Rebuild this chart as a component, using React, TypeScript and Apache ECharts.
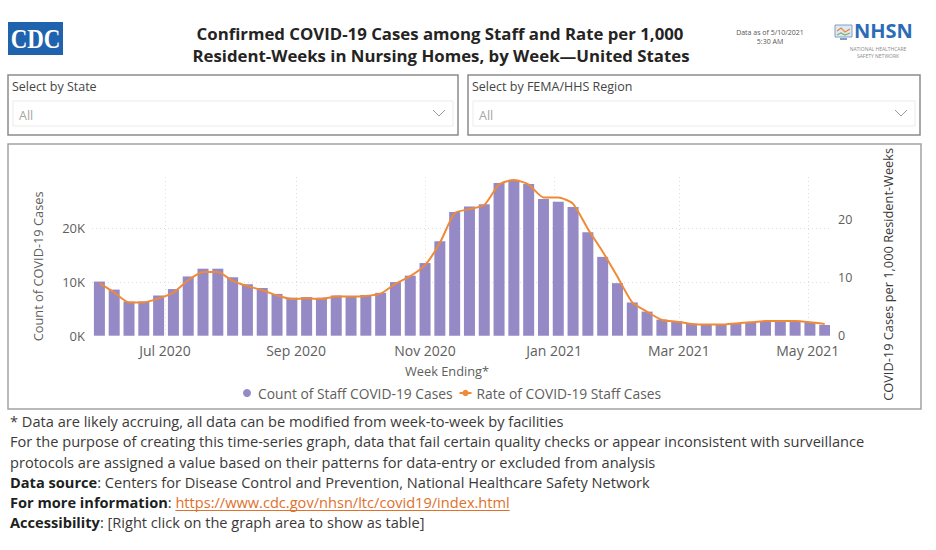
import React, { useEffect, useRef } from "react";
import * as echarts from "echarts";

const weekEnding = [
  "2020-05-31", "2020-06-07", "2020-06-14", "2020-06-21", "2020-06-28",
  "2020-07-05", "2020-07-12", "2020-07-19", "2020-07-26", "2020-08-02",
  "2020-08-09", "2020-08-16", "2020-08-23", "2020-08-30", "2020-09-06",
  "2020-09-13", "2020-09-20", "2020-09-27", "2020-10-04", "2020-10-11",
  "2020-10-18", "2020-10-25", "2020-11-01", "2020-11-08", "2020-11-15",
  "2020-11-22", "2020-11-29", "2020-12-06", "2020-12-13", "2020-12-20",
  "2020-12-27", "2021-01-03", "2021-01-10", "2021-01-17", "2021-01-24",
  "2021-01-31", "2021-02-07", "2021-02-14", "2021-02-21", "2021-02-28",
  "2021-03-07", "2021-03-14", "2021-03-21", "2021-03-28", "2021-04-04",
  "2021-04-11", "2021-04-18", "2021-04-25", "2021-05-02", "2021-05-09",
];

const staffCases = [
  10100, 8600, 6400, 6400, 7500, 8700, 11050, 12500, 12500, 10900,
  9600, 8900, 7800, 7100, 7200, 7100, 7500, 7400, 7600, 8000,
  10000, 11200, 13550, 17600, 23050, 24100, 24500, 28500, 29100, 28300,
  25500, 25000, 24000, 19300, 14700, 9800, 6200, 4500, 3000, 2700,
  2250, 2000, 2000, 2250, 2500, 2700, 2700, 2700, 2500, 2000,
];

const staffRate = [
  9.0, 7.4, 5.7, 5.7, 6.4, 7.4, 9.5, 10.9, 10.9, 9.4,
  8.5, 7.8, 6.9, 6.3, 6.4, 6.3, 6.7, 6.7, 6.8, 7.2,
  8.9, 10.2, 12.1, 15.9, 21.0, 21.7, 22.4, 25.9, 26.7, 25.9,
  23.7, 23.7, 22.6, 18.3, 14.4, 10.1, 5.7, 4.1, 2.7, 2.4,
  2.0, 1.9, 1.9, 2.1, 2.3, 2.5, 2.5, 2.5, 2.3, 2.0,
];

const axisStart = "2020-05-28";
const axisEnd = "2021-05-11";
const monthNames = ["Jan", "Feb", "Mar", "Apr", "May", "Jun", "Jul", "Aug", "Sep", "Oct", "Nov", "Dec"];
const labelledMonths = [0, 2, 4, 6, 8, 10];

const barName = "Count of Staff COVID-19 Cases";
const lineName = "Rate of COVID-19 Staff Cases";

const footLines = [
  "* Data are likely accruing, all data can be modified from week-to-week by facilities",
  "For the purpose of creating this time-series graph, data that fail certain quality checks or appear inconsistent with surveillance",
  "protocols are assigned a value based on their patterns for data-entry or excluded from analysis",
];
const sourceLabel = "Data source";
const sourceText = ": Centers for Disease Control and Prevention, National Healthcare Safety Network";
const infoLabel = "For more information";
const infoUrl = "https://www.cdc.gov/nhsn/ltc/covid19/index.html";
const accessLabel = "Accessibility";
const accessText = ": [Right click on the graph area to show as table]";

const FONT = '"Open Sans", "Noto Sans", sans-serif';

function dayList(start: string, end: string): string[] {
  const out: string[] = [];
  let t = Date.parse(start + "T00:00:00Z");
  const e = Date.parse(end + "T00:00:00Z");
  while (t <= e) {
    out.push(new Date(t).toISOString().slice(0, 10));
    t += 86400000;
  }
  return out;
}

function measure(text: string, font: string): number {
  const c = document.createElement("canvas").getContext("2d");
  if (!c) return text.length * 7;
  c.font = font;
  return c.measureText(text).width;
}

export default function App() {
  const ref = useRef<HTMLDivElement>(null);

  useEffect(() => {
    if (!ref.current) return;
    const chart = echarts.init(ref.current, undefined, { renderer: "svg" });

    const days = dayList(axisStart, axisEnd);
    const caseMap: Record<string, number> = {};
    const rateMap: Record<string, number> = {};
    weekEnding.forEach((d, i) => {
      caseMap[d] = staffCases[i];
      rateMap[d] = staffRate[i];
    });
    const barData = days.map((d) => (d in caseMap ? caseMap[d] : "-"));
    const lineData = days.map((d) => (d in rateMap ? rateMap[d] : "-"));

    const isMonthTick = (_i: number, v: string) =>
      v.slice(8) === "01" && labelledMonths.indexOf(+v.slice(5, 7) - 1) >= 0;

    const footSize = 14.6;
    const footFont = `${footSize}px "Open Sans"`;
    const footBold = `bold ${footSize}px "Open Sans"`;
    const footColor = "#3b3a39";
    const footX = 10;
    const footY = [421, 441, 462, 482, 502, 522];

    const infoW = measure(infoLabel, footBold) + measure(": ", footFont);
    const urlW = measure(infoUrl, footFont);

    const center = { align: "center", verticalAlign: "middle", textAlign: "center", textVerticalAlign: "middle" };
    const leftMid = { align: "left", verticalAlign: "middle", textAlign: "left", textVerticalAlign: "middle" };

    const graphics: any[] = [
      // CDC logo
      { type: "rect", silent: true, shape: { x: 8, y: 22, width: 55, height: 33 }, style: { fill: "#1f62ae" } },
      {
        type: "text", silent: true, x: 35.5, y: 39, scaleX: 0.82,
        style: { text: "CDC", fill: "#ffffff", font: 'bold 28px "Liberation Serif"', ...center },
      },
      // Title
      {
        type: "text", silent: true, x: 440, y: 33,
        style: { text: "Confirmed COVID-19 Cases among Staff and Rate per 1,000", fill: "#252423", font: `bold 16.8px ${FONT}`, ...center },
      },
      {
        type: "text", silent: true, x: 441, y: 55,
        style: { text: "Resident-Weeks in Nursing Homes, by Week\u2014United States", fill: "#252423", font: `bold 16.8px ${FONT}`, ...center },
      },
      // Data as of
      {
        type: "text", silent: true, x: 770, y: 32,
        style: { text: "Data as of 5/10/2021", fill: "#555555", font: `7px ${FONT}`, ...center },
      },
      {
        type: "text", silent: true, x: 770, y: 41,
        style: { text: "5:30 AM", fill: "#555555", font: `7px ${FONT}`, ...center },
      },
      // NHSN logo
      { type: "rect", silent: true, shape: { x: 835, y: 25, width: 17, height: 12 }, style: { fill: "#dfe8f3", stroke: "#7f9fc8", lineWidth: 1 } },
      { type: "polyline", silent: true, shape: { points: [[837, 31], [841, 28], [845, 32], [850, 29]] }, style: { stroke: "#e9873a", lineWidth: 1.2, fill: "none" } },
      { type: "polyline", silent: true, shape: { points: [[837, 35], [841, 33], [845, 35], [850, 33]] }, style: { stroke: "#7fb26a", lineWidth: 1.2, fill: "none" } },
      { type: "rect", silent: true, shape: { x: 840, y: 38, width: 7, height: 2 }, style: { fill: "#7f9fc8" } },
      {
        type: "text", silent: true, x: 854, y: 30.5,
        style: { text: "NHSN", fill: "#2c6cb6", font: `bold 20px ${FONT}`, lineHeight: 17, ...leftMid },
      },
      {
        type: "text", silent: true, x: 878, y: 48.5,
        style: { text: "NATIONAL HEALTHCARE", fill: "#8a8a8a", font: `5px ${FONT}`, lineHeight: 5.5, ...center },
      },
      {
        type: "text", silent: true, x: 878, y: 55.5,
        style: { text: "SAFETY NETWORK", fill: "#8a8a8a", font: `5px ${FONT}`, lineHeight: 5.5, ...center },
      },
    ];

    const slicers = [
      { x: 8, w: 450, label: "Select by State" },
      { x: 468, w: 452, label: "Select by FEMA/HHS Region" },
    ];
    slicers.forEach((s) => {
      graphics.push(
        { type: "rect", silent: true, shape: { x: s.x, y: 75, width: s.w, height: 60 }, style: { fill: "#ffffff", stroke: "#8c8c8c", lineWidth: 1.5 } },
        {
          type: "text", silent: true, x: s.x + 4, y: 86,
          style: { text: s.label, fill: "#454545", font: `12.5px ${FONT}`, ...leftMid },
        },
        { type: "rect", silent: true, shape: { x: s.x + 5, y: 101, width: s.w - 10, height: 25 }, style: { fill: "#ffffff", stroke: "#ebebeb", lineWidth: 1 } },
        {
          type: "text", silent: true, x: s.x + 11, y: 115,
          style: { text: "All", fill: "#a6a6a6", font: `12.5px ${FONT}`, ...leftMid },
        },
        { type: "polyline", silent: true, shape: { points: [[s.x + s.w - 25, 110], [s.x + s.w - 19, 116], [s.x + s.w - 13, 110]] }, style: { stroke: "#9a9a9a", lineWidth: 1, fill: "none" } }
      );
    });

    // chart frame
    graphics.push({ type: "rect", silent: true, shape: { x: 8, y: 144, width: 913, height: 265 }, style: { fill: "none", stroke: "#a3a3a3", lineWidth: 1.5 } });

    // footnotes
    footLines.forEach((t, i) => {
      graphics.push({
        type: "text", silent: true, x: footX, y: footY[i],
        style: { text: t, fill: footColor, font: footFont, ...leftMid },
      });
    });
    const richStyles = {
      b: { fontFamily: "Open Sans", fontWeight: "bold", fontSize: footSize, fill: "#201f1e", color: "#201f1e" },
      n: { fontFamily: "Open Sans", fontSize: footSize, fill: footColor, color: footColor },
      u: { fontFamily: "Open Sans", fontSize: footSize, fill: "#e0702a", color: "#e0702a" },
    };
    graphics.push(
      {
        type: "text", silent: true, x: footX, y: footY[3],
        style: { text: `{b|${sourceLabel}}{n|${sourceText}}`, rich: richStyles, font: footFont, ...leftMid },
      },
      {
        type: "text", silent: true, x: footX, y: footY[4],
        style: { text: `{b|${infoLabel}}{n|: }{u|${infoUrl}}`, rich: richStyles, font: footFont, ...leftMid },
      },
      { type: "line", silent: true, shape: { x1: footX + infoW, y1: footY[4] + 8.5, x2: footX + infoW + urlW, y2: footY[4] + 8.5 }, style: { stroke: "#e0702a", lineWidth: 1 } },
      {
        type: "text", silent: true, x: footX, y: footY[5],
        style: { text: `{b|${accessLabel}}{n|${accessText}}`, rich: richStyles, font: footFont, ...leftMid },
      }
    );

    const axisTextColor = "#605e5c";

    chart.setOption({
      animation: false,
      backgroundColor: "#ffffff",
      textStyle: { fontFamily: FONT },
      grid: { left: 92, right: 106, top: 177, height: 158.7, containLabel: false },
      legend: {
        left: 238,
        top: 381,
        itemWidth: 12,
        itemHeight: 8,
        itemGap: 6,
        textStyle: { color: axisTextColor, fontSize: 13.8, fontFamily: FONT },
        data: [{ name: barName, icon: "circle" }, { name: lineName }],
      },
      xAxis: {
        type: "category",
        data: days,
        boundaryGap: true,
        name: "Week Ending*",
        nameLocation: "middle",
        nameGap: 28.5,
        nameTextStyle: { color: axisTextColor, fontSize: 12.8, fontFamily: FONT, padding: [0, 28, 0, 0] },
        axisLine: { show: false },
        axisTick: { show: false },
        axisLabel: {
          interval: isMonthTick,
          color: axisTextColor,
          fontSize: 14,
          margin: 8,
          hideOverlap: false,
          formatter: (v: string) => `${monthNames[+v.slice(5, 7) - 1]} ${v.slice(0, 4)}`,
        },
        splitLine: {
          show: true,
          interval: isMonthTick,
          alignWithLabel: true,
          lineStyle: { color: "#dedede", type: [1, 3], width: 1 },
        },
      },
      yAxis: [
        {
          type: "value",
          min: 0,
          max: 29600,
          interval: 10000,
          name: "Count of COVID-19 Cases",
          nameLocation: "middle",
          nameGap: 48,
          nameTextStyle: { color: axisTextColor, fontSize: 12.8, fontFamily: FONT, padding: [0, 20, 0, 0] },
          axisLine: { show: false },
          axisTick: { show: false },
          axisLabel: {
            color: axisTextColor,
            fontSize: 13,
            margin: 7,
            showMaxLabel: false,
            formatter: (v: number) => `${v / 1000}K`,
          },
          splitLine: {
            show: true,
            showMinLine: false,
            showMaxLine: false,
            lineStyle: { color: "#dedede", type: [1, 3], width: 1 },
          },
        },
        {
          type: "value",
          min: 0,
          max: 27.2,
          interval: 10,
          name: "COVID-19 Cases per 1,000 Resident-Weeks",
          nameLocation: "middle",
          nameGap: 51,
          nameTextStyle: { color: "#3b3a39", fontSize: 12.8, fontFamily: FONT, padding: [0, 36, 0, 0] },
          axisLine: { show: false },
          axisTick: { show: false },
          axisLabel: { color: axisTextColor, fontSize: 12.5, margin: 8, showMaxLabel: false },
          splitLine: { show: false },
        },
      ],
      series: [
        {
          name: barName,
          type: "bar",
          data: barData,
          barWidth: 11,
          itemStyle: { color: "#958ac5" },
        },
        {
          name: lineName,
          type: "line",
          yAxisIndex: 1,
          data: lineData,
          connectNulls: true,
          symbol: "none",
          smooth: 0.2,
          lineStyle: { color: "#f08a36", width: 2 },
          itemStyle: { color: "#f08a36" },
          z: 3,
        },
      ],
      graphic: { elements: graphics },
    });

    return () => chart.dispose();
  }, []);

  return (
    <div
      ref={ref}
      style={{ position: "fixed", left: 0, top: 0, width: 936, height: 550, background: "#ffffff" }}
    />
  );
}
